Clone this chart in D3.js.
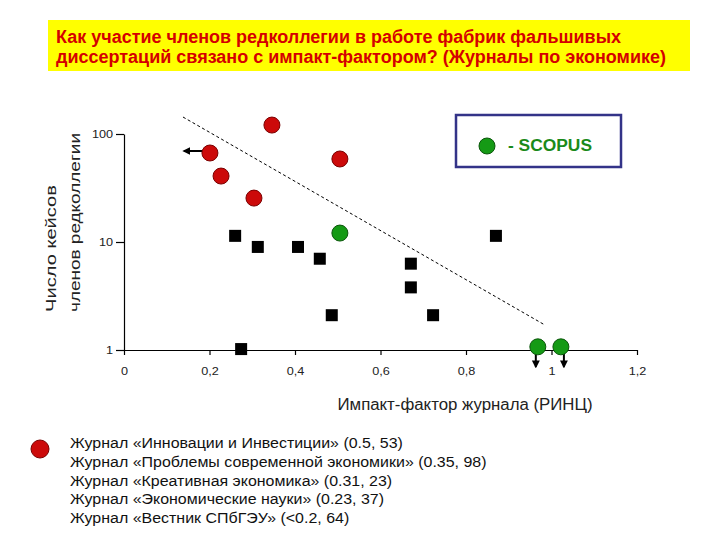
<!DOCTYPE html>
<html>
<head>
<meta charset="utf-8">
<script src="https://cdn.jsdelivr.net/npm/d3@7"></script>
<style>
  body { margin: 0; background: #fff; }
  svg { font-family: "Liberation Sans", Arial, sans-serif; }
</style>
</head>
<body>
<svg id="chart" width="720" height="540"></svg>
<script>
(() => {
  // impact factor (x) and number of editorial board cases (y)
  const redX = [0.201, 0.346, 0.505, 0.227, 0.304]
  const redY = [66.7, 121, 58.7, 40.8, 25.5]
  const greenX = [0.505, 0.968, 1.022]
  const greenY = [12.1, 1.07, 1.07]
  const blackX = [0.26, 0.313, 0.407, 0.458, 0.486, 0.274, 0.87, 0.671, 0.671, 0.723]
  const blackY = [11.4, 9.0, 9.0, 7.0, 2.1, 1.02, 11.4, 6.3, 3.8, 2.1]
  const trendX = [0.138, 0.985]
  const trendY = [143.6, 1.7]
  const xTicks = [0, 0.2, 0.4, 0.6, 0.8, 1, 1.2]
  const yTicks = [1, 10, 100]

  const titleLines = [
    'Как участие членов редколлегии в работе фабрик фальшивых',
    'диссертаций связано с импакт-фактором? (Журналы по экономике)'
  ]
  const yTitle = ['Число кейсов', 'членов редколлегии']
  const xTitle = 'Импакт-фактор журнала (РИНЦ)'
  const legendLines = [
    'Журнал «Инновации и Инвестиции» (0.5, 53)',
    'Журнал «Проблемы современной экономики» (0.35, 98)',
    'Журнал «Креативная экономика» (0.31, 23)',
    'Журнал «Экономические науки» (0.23, 37)',
    'Журнал «Вестник СПбГЭУ» (<0.2, 64)'
  ]

  const red = '#cc0a0a'
  const redEdge = '#7a0000'
  const green = '#159a15'
  const greenEdge = '#0b560b'

  const svg = d3.select('#chart')

  svg.append('defs').append('marker')
    .attr('id', 'arrow')
    .attr('viewBox', '0 0 10 10')
    .attr('refX', 8)
    .attr('refY', 5)
    .attr('markerWidth', 4)
    .attr('markerHeight', 4)
    .attr('orient', 'auto')
    .append('path')
      .attr('d', 'M0,0 L10,5 L0,10 z')
      .attr('fill', '#000')

  // the source font is wider than Liberation Sans, stretch text a bit
  const widen = (sel, k) => sel.each(function () {
    const w = this.getComputedTextLength()
    d3.select(this).attr('textLength', w * k).attr('lengthAdjust', 'spacingAndGlyphs')
  })

  // title
  svg.append('rect')
    .attr('x', 48).attr('y', 20)
    .attr('width', 642).attr('height', 51)
    .attr('fill', '#ffff00')
  const titleLen = [565, 610]
  titleLines.forEach((t, i) => {
    svg.append('text')
      .attr('x', 56)
      .attr('y', 43 + i * 20)
      .attr('font-size', 18)
      .attr('font-weight', 'bold')
      .attr('fill', '#d40000')
      .attr('textLength', titleLen[i])
      .attr('lengthAdjust', 'spacingAndGlyphs')
      .text(t)
  })

  const x = d3.scaleLinear().domain([0, 1.2]).range([124, 637])
  const y = d3.scaleLog().domain([1, 100]).range([350, 134])

  const xAxis = svg.append('g')
    .attr('transform', `translate(0,${y(1)})`)
    .call(d3.axisBottom(x).tickValues(xTicks).tickSize(5).tickSizeOuter(0)
      .tickFormat(d => String(d).replace('.', ',')))
  const yAxis = svg.append('g')
    .attr('transform', `translate(${x(0)},0)`)
    .call(d3.axisLeft(y).tickValues(yTicks).tickSize(8).tickSizeOuter(0)
      .tickFormat(d3.format('d')))
  ;[xAxis, yAxis].forEach(a => {
    a.selectAll('path, line').attr('stroke', '#000').attr('stroke-width', 1.2)
    a.selectAll('text').attr('font-size', 11).attr('fill', '#222')
      .attr('font-family', '"Liberation Sans", Arial, sans-serif')
    widen(a.selectAll('text'), 1.15)
  })
  xAxis.selectAll('text').attr('dy', '1.55em')
  yAxis.selectAll('text').attr('x', -11)

  // axis titles
  const yTitleLen = [127, 179]
  yTitle.forEach((t, i) => {
    svg.append('text')
      .attr('transform', `translate(${56 + i * 24},312) rotate(-90)`)
      .attr('font-size', 15)
      .attr('fill', '#222')
      .attr('textLength', yTitleLen[i])
      .attr('lengthAdjust', 'spacingAndGlyphs')
      .text(t)
  })
  svg.append('text')
    .attr('x', 465).attr('y', 410)
    .attr('text-anchor', 'middle')
    .attr('font-size', 16)
    .attr('fill', '#222')
    .attr('textLength', 255)
    .attr('lengthAdjust', 'spacingAndGlyphs')
    .text(xTitle)

  // trend line
  svg.append('path')
    .datum(trendX.map((v, i) => [v, trendY[i]]))
    .attr('d', d3.line().x(d => x(d[0])).y(d => y(d[1])))
    .attr('fill', 'none')
    .attr('stroke', '#000')
    .attr('stroke-width', 1)
    .attr('stroke-dasharray', '3,2.5')

  // black squares
  svg.selectAll('rect.sq')
    .data(blackX.map((v, i) => [v, blackY[i]]))
    .join('rect')
      .attr('class', 'sq')
      .attr('x', d => x(d[0]) - 6)
      .attr('y', d => y(d[1]) - 6)
      .attr('width', 12)
      .attr('height', 12)
      .attr('fill', '#000')

  // arrows for out-of-range values
  const leftArrow = { x: redX[0], y: redY[0] }
  svg.append('line')
    .attr('x1', x(leftArrow.x) - 4).attr('y1', y(leftArrow.y) - 2)
    .attr('x2', x(leftArrow.x) - 26).attr('y2', y(leftArrow.y) - 2)
    .attr('stroke', '#000').attr('stroke-width', 2)
    .attr('marker-end', 'url(#arrow)')
  ;[[greenX[1], greenY[1], -2], [greenX[2], greenY[2], 3]].forEach(([gx, gy, off]) => {
    svg.append('line')
      .attr('x1', x(gx) + off).attr('y1', y(gy))
      .attr('x2', x(gx) + off).attr('y2', y(gy) + 20)
      .attr('stroke', '#000').attr('stroke-width', 2)
      .attr('marker-end', 'url(#arrow)')
  })

  // circles
  svg.selectAll('circle.red')
    .data(redX.map((v, i) => [v, redY[i]]))
    .join('circle')
      .attr('class', 'red')
      .attr('cx', d => x(d[0]))
      .attr('cy', d => y(d[1]))
      .attr('r', 8)
      .attr('fill', red)
      .attr('stroke', redEdge)
  svg.selectAll('circle.green')
    .data(greenX.map((v, i) => [v, greenY[i]]))
    .join('circle')
      .attr('class', 'green')
      .attr('cx', d => x(d[0]))
      .attr('cy', d => y(d[1]))
      .attr('r', 8)
      .attr('fill', green)
      .attr('stroke', greenEdge)

  // SCOPUS box
  svg.append('rect')
    .attr('x', 456).attr('y', 115)
    .attr('width', 165).attr('height', 52)
    .attr('fill', '#fff')
    .attr('stroke', '#333388')
    .attr('stroke-width', 2.5)
  svg.append('circle')
    .attr('cx', 487).attr('cy', 146).attr('r', 8)
    .attr('fill', green).attr('stroke', greenEdge)
  svg.append('text')
    .attr('x', 508).attr('y', 151)
    .attr('font-size', 16)
    .attr('font-weight', 'bold')
    .attr('fill', '#1a8a1a')
    .attr('textLength', 84)
    .attr('lengthAdjust', 'spacingAndGlyphs')
    .text('- SCOPUS')

  // bottom legend
  svg.append('circle')
    .attr('cx', 40).attr('cy', 449).attr('r', 9)
    .attr('fill', red).attr('stroke', redEdge)
  const legend = svg.selectAll('text.leg')
    .data(legendLines)
    .join('text')
      .attr('class', 'leg')
      .attr('x', 70)
      .attr('y', (d, i) => 448 + i * 18.75)
      .attr('font-size', 14)
      .attr('fill', '#111')
      .text(d => d)
  widen(legend, 1.14)
})()
</script>
</body>
</html>
